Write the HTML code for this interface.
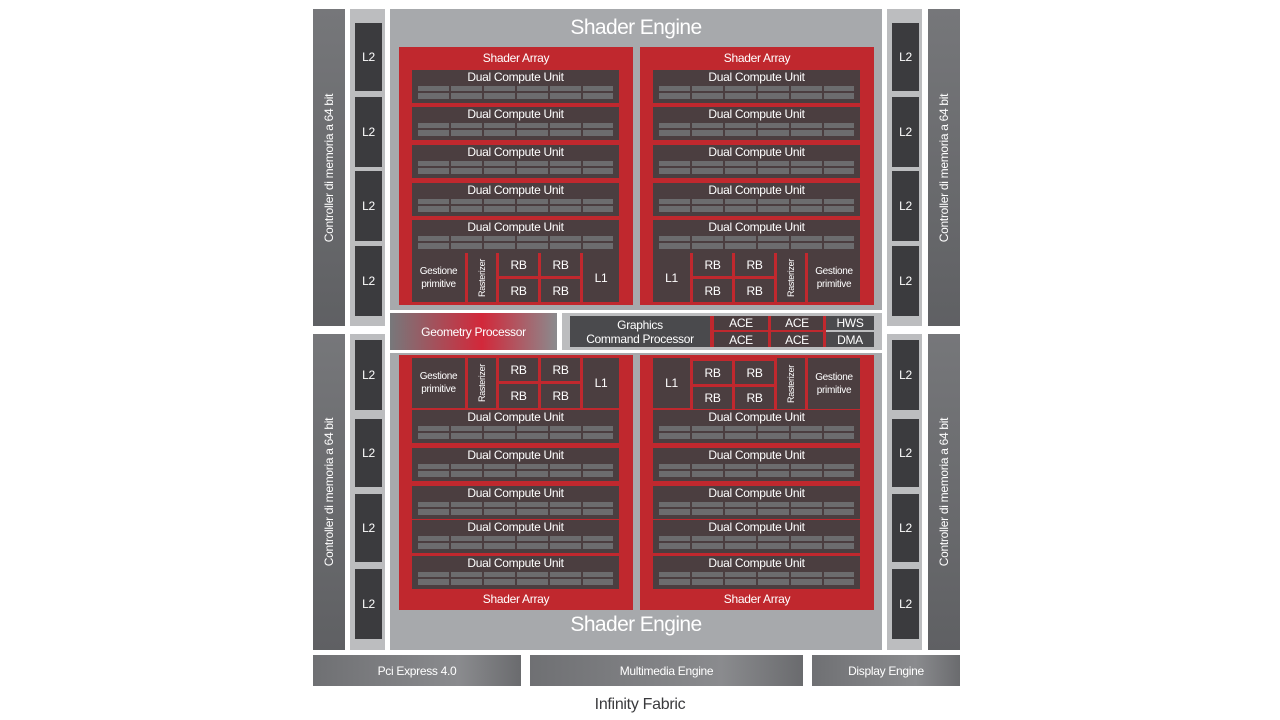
<!DOCTYPE html>
<html><head><meta charset="utf-8"><style>
*{margin:0;padding:0;box-sizing:border-box}
body{width:1280px;height:720px;background:#fff;position:relative;overflow:hidden;font-family:"Liberation Sans Narrow","Liberation Sans",sans-serif;color:#fff;letter-spacing:-0.3px}
div{position:absolute}
.c{display:flex;align-items:center;justify-content:center;text-align:center}
.mem{background:linear-gradient(#76777a,#5f6063);width:32px}
.mem span{transform:rotate(-90deg);white-space:nowrap;font-size:12px}
.l2c{background:#bcbdbf;width:35px}
.l2{background:#3b3b3e;left:5px;width:27px;font-size:12px}
.se{background:#a7a9ac;left:390px;width:492px}
.set{font-size:21px;left:0;right:0;text-align:center;letter-spacing:-0.6px}
.sa{background:#c0282e;width:234px}
.sat{left:0;right:0;text-align:center;font-size:12px}
.dcu{background:#4b3e40;left:13px;width:207px;height:33px}
.dcu span{position:absolute;left:0;right:0;top:0;text-align:center;font-size:12px;line-height:15px}
.dcu:after{content:'';position:absolute;left:6px;right:6px;bottom:4px;height:13px;background:repeating-linear-gradient(to right,transparent 0 31px,#4b3e40 31px 33px),linear-gradient(to bottom,#6c6c6e 0 5px,#4b3e40 5px 7px,#6c6c6e 7px)}
.bx{background:#4b3e40;font-size:12px}
.g{font-size:10px;line-height:13px}
.r{font-size:9px}
.r span{transform:rotate(-90deg);display:block}
.bot{background:linear-gradient(90deg,#6f7073,#8a8b8e 70%,#6a6b6e);top:655px;height:31px;font-size:12px}
</style></head><body>

<div class="mem c" style="left:313px;top:9px;height:317px"><span>Controller di memoria a 64 bit</span></div>
<div class="mem c" style="left:313px;top:334px;height:316px"><span>Controller di memoria a 64 bit</span></div>
<div class="mem c" style="left:928px;top:9px;height:317px"><span>Controller di memoria a 64 bit</span></div>
<div class="mem c" style="left:928px;top:334px;height:316px"><span>Controller di memoria a 64 bit</span></div>

<div class="l2c" style="left:350px;top:9px;height:317px">
<div class="l2 c" style="top:14px;height:68px">L2</div><div class="l2 c" style="top:88px;height:70px">L2</div><div class="l2 c" style="top:162px;height:70px">L2</div><div class="l2 c" style="top:237px;height:70px">L2</div></div>
<div class="l2c" style="left:350px;top:334px;height:316px">
<div class="l2 c" style="top:6px;height:70px">L2</div><div class="l2 c" style="top:85px;height:68px">L2</div><div class="l2 c" style="top:160px;height:68px">L2</div><div class="l2 c" style="top:235px;height:70px">L2</div></div>
<div class="l2c" style="left:887px;top:9px;height:317px">
<div class="l2 c" style="top:14px;height:68px">L2</div><div class="l2 c" style="top:88px;height:70px">L2</div><div class="l2 c" style="top:162px;height:70px">L2</div><div class="l2 c" style="top:237px;height:70px">L2</div></div>
<div class="l2c" style="left:887px;top:334px;height:316px">
<div class="l2 c" style="top:6px;height:70px">L2</div><div class="l2 c" style="top:85px;height:68px">L2</div><div class="l2 c" style="top:160px;height:68px">L2</div><div class="l2 c" style="top:235px;height:70px">L2</div></div>

<div class="se" style="top:9px;height:301px">
<div class="set" style="top:7px">Shader Engine</div>
<div class="sa" style="left:9px;top:38px;height:258px">
<div class="sat" style="top:4px">Shader Array</div>
<div class="dcu" style="top:23px"><span>Dual Compute Unit</span></div>
<div class="dcu" style="top:60px"><span>Dual Compute Unit</span></div>
<div class="dcu" style="top:98px"><span>Dual Compute Unit</span></div>
<div class="dcu" style="top:136px"><span>Dual Compute Unit</span></div>
<div class="dcu" style="top:173px"><span>Dual Compute Unit</span></div>
<div class="bx c g" style="left:13px;top:206px;width:53px;height:49px">Gestione<br>primitive</div>
<div class="bx c r" style="left:69px;top:206px;width:28px;height:49px"><span>Rasterizer</span></div>
<div class="bx c" style="left:100px;top:206px;width:39px;height:23px">RB</div>
<div class="bx c" style="left:142px;top:206px;width:39px;height:23px">RB</div>
<div class="bx c" style="left:100px;top:232px;width:39px;height:23px">RB</div>
<div class="bx c" style="left:142px;top:232px;width:39px;height:23px">RB</div>
<div class="bx c" style="left:184px;top:206px;width:36px;height:49px">L1</div>
</div>
<div class="sa" style="left:250px;top:38px;height:258px">
<div class="sat" style="top:4px">Shader Array</div>
<div class="dcu" style="top:23px"><span>Dual Compute Unit</span></div>
<div class="dcu" style="top:60px"><span>Dual Compute Unit</span></div>
<div class="dcu" style="top:98px"><span>Dual Compute Unit</span></div>
<div class="dcu" style="top:136px"><span>Dual Compute Unit</span></div>
<div class="dcu" style="top:173px"><span>Dual Compute Unit</span></div>
<div class="bx c" style="left:13px;top:206px;width:37px;height:49px">L1</div>
<div class="bx c" style="left:53px;top:206px;width:39px;height:23px">RB</div>
<div class="bx c" style="left:95px;top:206px;width:39px;height:23px">RB</div>
<div class="bx c" style="left:53px;top:232px;width:39px;height:23px">RB</div>
<div class="bx c" style="left:95px;top:232px;width:39px;height:23px">RB</div>
<div class="bx c r" style="left:137px;top:206px;width:28px;height:49px"><span>Rasterizer</span></div>
<div class="bx c g" style="left:168px;top:206px;width:52px;height:49px">Gestione<br>primitive</div>
</div>
</div>

<div class="c" style="left:390px;top:313px;width:167px;height:37px;background:linear-gradient(90deg,#77787b,#d2283a 55%,#8a8b8e);font-size:12px">Geometry Processor</div>
<div style="left:562px;top:313px;width:320px;height:37px;background:#bcbdbf">
<div class="c" style="left:8px;top:3px;width:140px;height:31px;background:#4a4a4d;font-size:12px;line-height:14px">Graphics<br>Command Processor</div>
<div style="left:148px;top:3px;width:116px;height:31px;background:#c0282e"></div>
<div class="bx c" style="left:152px;top:3px;width:54px;height:14px;font-size:12px">ACE</div>
<div class="bx c" style="left:209px;top:3px;width:52px;height:14px;font-size:12px">ACE</div>
<div class="bx c" style="left:152px;top:19px;width:54px;height:15px;font-size:12px">ACE</div>
<div class="bx c" style="left:209px;top:19px;width:52px;height:15px;font-size:12px">ACE</div>
<div class="c" style="left:264px;top:3px;width:48px;height:14px;background:#4a4a4d;font-size:12px">HWS</div>
<div class="c" style="left:264px;top:19px;width:48px;height:15px;background:#4a4a4d;font-size:12px">DMA</div>
</div>

<div class="se" style="top:353px;height:297px">
<div class="set" style="top:260px">Shader Engine</div>
<div class="sa" style="left:9px;top:2px;height:255px">
<div class="bx c g" style="left:13px;top:3px;width:53px;height:50px">Gestione<br>primitive</div>
<div class="bx c r" style="left:69px;top:3px;width:28px;height:50px"><span>Rasterizer</span></div>
<div class="bx c" style="left:100px;top:3px;width:39px;height:23px">RB</div>
<div class="bx c" style="left:142px;top:3px;width:39px;height:23px">RB</div>
<div class="bx c" style="left:100px;top:29px;width:39px;height:24px">RB</div>
<div class="bx c" style="left:142px;top:29px;width:39px;height:24px">RB</div>
<div class="bx c" style="left:184px;top:3px;width:36px;height:50px">L1</div>
<div class="dcu" style="top:55px"><span>Dual Compute Unit</span></div>
<div class="dcu" style="top:93px"><span>Dual Compute Unit</span></div>
<div class="dcu" style="top:131px"><span>Dual Compute Unit</span></div>
<div class="dcu" style="top:165px"><span>Dual Compute Unit</span></div>
<div class="dcu" style="top:201px"><span>Dual Compute Unit</span></div>
<div class="sat" style="top:237px">Shader Array</div>
</div>
<div class="sa" style="left:250px;top:2px;height:255px">
<div class="bx c" style="left:13px;top:3px;width:37px;height:50px">L1</div>
<div class="bx c" style="left:53px;top:6px;width:39px;height:23px">RB</div>
<div class="bx c" style="left:95px;top:6px;width:39px;height:23px">RB</div>
<div class="bx c" style="left:53px;top:32px;width:39px;height:22px">RB</div>
<div class="bx c" style="left:95px;top:32px;width:39px;height:22px">RB</div>
<div class="bx c r" style="left:137px;top:3px;width:28px;height:51px"><span>Rasterizer</span></div>
<div class="bx c g" style="left:168px;top:3px;width:52px;height:51px">Gestione<br>primitive</div>
<div class="dcu" style="top:55px"><span>Dual Compute Unit</span></div>
<div class="dcu" style="top:93px"><span>Dual Compute Unit</span></div>
<div class="dcu" style="top:131px"><span>Dual Compute Unit</span></div>
<div class="dcu" style="top:165px"><span>Dual Compute Unit</span></div>
<div class="dcu" style="top:201px"><span>Dual Compute Unit</span></div>
<div class="sat" style="top:237px">Shader Array</div>
</div>
</div>

<div class="bot c" style="left:313px;width:208px">Pci Express 4.0</div>
<div class="bot c" style="left:530px;width:273px">Multimedia Engine</div>
<div class="bot c" style="left:812px;width:148px">Display Engine</div>
<div style="left:0;right:0;top:696px;text-align:center;color:#3a3a3d;font-size:16px">Infinity Fabric</div>
</body></html>
